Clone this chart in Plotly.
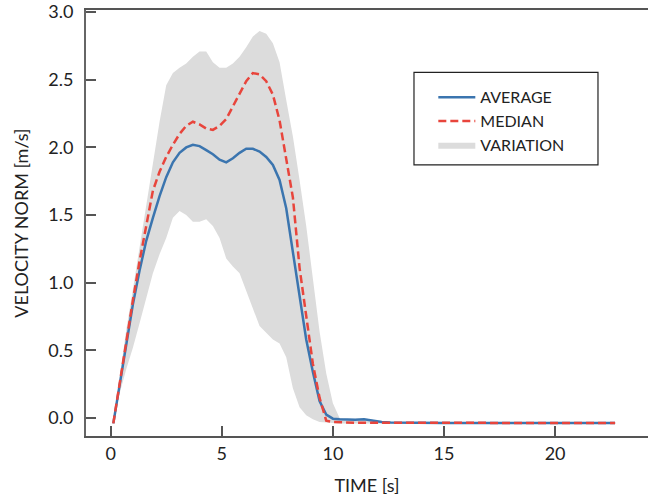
import plotly.graph_objects as go

# ---- data ----
time_s = [0.12, 0.4, 0.7, 1.0, 1.3, 1.6, 1.9, 2.2, 2.5, 2.8, 3.1, 3.4, 3.7, 4.0, 4.3,
          4.6, 4.9, 5.2, 5.5, 5.8, 6.1, 6.4, 6.7, 7.0, 7.3, 7.6, 7.9, 8.2, 8.5, 8.8,
          9.1, 9.4, 9.7, 10.0, 10.3, 10.6, 11.0, 11.4, 11.8, 12.2, 12.6, 13.0, 14.0,
          15.0, 16.0, 17.0, 18.0, 19.0, 20.0, 21.0, 22.0, 22.7]

average = [-0.04, 0.25, 0.56, 0.84, 1.09, 1.31, 1.48, 1.64, 1.78, 1.89, 1.96, 2.00, 2.02,
           2.01, 1.98, 1.95, 1.91, 1.89, 1.92, 1.96, 1.99, 1.99, 1.97, 1.93, 1.87, 1.76,
           1.55, 1.22, 0.89, 0.58, 0.34, 0.125, 0.025, -0.005, -0.01, -0.012, -0.012,
           -0.01, -0.02, -0.03, -0.033, -0.034, -0.035, -0.036, -0.036, -0.036, -0.037,
           -0.037, -0.037, -0.037, -0.037, -0.037]

median = [-0.04, 0.26, 0.58, 0.87, 1.16, 1.41, 1.68, 1.82, 1.93, 2.02, 2.10, 2.16, 2.19,
          2.17, 2.14, 2.13, 2.16, 2.21, 2.30, 2.40, 2.49, 2.55, 2.54, 2.49, 2.39, 2.20,
          1.93, 1.63, 1.11, 0.74, 0.40, 0.15, -0.02, -0.03, -0.033, -0.034, -0.035,
          -0.035, -0.035, -0.036, -0.036, -0.036, -0.036, -0.037, -0.037, -0.037, -0.037,
          -0.037, -0.037, -0.037, -0.037, -0.037]

var_upper = [-0.04, 0.29, 0.65, 0.95, 1.26, 1.55, 1.88, 2.19, 2.46, 2.55, 2.59, 2.62, 2.67,
             2.71, 2.71, 2.63, 2.59, 2.59, 2.62, 2.67, 2.74, 2.82, 2.86, 2.84, 2.77, 2.63,
             2.35, 2.08, 1.76, 1.42, 1.03, 0.64, 0.33, 0.11, 0.0, -0.005, -0.005, -0.003,
             -0.015, -0.025, -0.03, -0.032, -0.033, -0.034, -0.034, -0.035, -0.035,
             -0.035, -0.035, -0.035, -0.035, -0.035]

var_lower = [-0.04, 0.18, 0.36, 0.52, 0.70, 0.88, 1.07, 1.21, 1.33, 1.48, 1.53, 1.50, 1.45,
             1.45, 1.47, 1.42, 1.33, 1.18, 1.12, 1.07, 0.94, 0.81, 0.68, 0.63, 0.58, 0.55,
             0.45, 0.22, 0.08, 0.02, -0.01, -0.03, -0.035, -0.04, -0.04, -0.04, -0.04,
             -0.04, -0.04, -0.04, -0.04, -0.04, -0.04, -0.04, -0.04, -0.04, -0.04, -0.04,
             -0.04, -0.04, -0.04, -0.04]

x_ticks = [0, 5, 10, 15, 20]
y_ticks = [0.0, 0.5, 1.0, 1.5, 2.0, 2.5, 3.0]
y_tick_text = ["0.0", "0.5", "1.0", "1.5", "2.0", "2.5", "3.0"]

BLUE = "#3b75af"
RED = "#e8453c"
GRAY = "#dcdcdc"
FONT = "Lato"

fig = go.Figure()
fig.add_trace(go.Scatter(x=time_s, y=var_lower, mode="lines", line=dict(width=0, color=GRAY),
                         showlegend=False, hoverinfo="skip"))
fig.add_trace(go.Scatter(x=time_s, y=var_upper, mode="lines", line=dict(width=0, color=GRAY),
                         fill="tonexty", fillcolor=GRAY, name="VARIATION", legendrank=3))
fig.add_trace(go.Scatter(x=time_s, y=average, mode="lines", line=dict(width=2.5, color=BLUE),
                         name="AVERAGE", legendrank=1))
fig.add_trace(go.Scatter(x=time_s, y=median, mode="lines",
                         line=dict(width=2.5, color=RED, dash="8px,4px"),
                         name="MEDIAN", legendrank=2))

fig.update_layout(
    width=648, height=500,
    margin=dict(l=86, r=0, t=10, b=64, autoexpand=False),
    paper_bgcolor="white", plot_bgcolor="white",
    font=dict(family=FONT, size=18, color="#222222"),
    showlegend=True,
    legend=dict(x=0.618, y=0.835, xanchor="left", yanchor="top", traceorder="normal",
                bgcolor="rgba(0,0,0,0)", borderwidth=0,
                font=dict(family=FONT, size=16, color="#222222"),
                itemwidth=37, tracegroupgap=0),
    shapes=[dict(type="rect", xref="paper", yref="paper",
                 x0=0.5836, x1=0.911, y0=0.6366, y1=0.8537,
                 line=dict(color="#222222", width=1.2), fillcolor="rgba(0,0,0,0)", layer="above")],
)

fig.update_xaxes(range=[-1.11, 24.18], tickvals=x_ticks, ticks="inside", ticklen=10,
                 tickwidth=1.5, tickcolor="#555555", showline=True, linecolor="#555555",
                 linewidth=2, mirror=True, showgrid=False, zeroline=False, automargin=False,
                 ticklabelstandoff=0,
                 title=dict(text="TIME [s]", standoff=17, font=dict(size=18)))
fig.update_yaxes(range=[-0.133, 3.016], tickvals=y_ticks, ticktext=y_tick_text,
                 ticks="inside", ticklen=10, tickwidth=1.5, tickcolor="#555555",
                 showline=True, linecolor="#666666", linewidth=2, showgrid=False,
                 zeroline=False, automargin=False, ticklabelstandoff=7,
                 title=dict(text="VELOCITY NORM [m/s]", standoff=15, font=dict(size=18)))

fig.write_html(
    "out.html",
    config={"displayModeBar": False, "responsive": False},
    post_script=("document.body.style.margin='0';"
                 "document.body.style.overflow='hidden';"
                 "document.documentElement.style.overflow='hidden';"),
)
